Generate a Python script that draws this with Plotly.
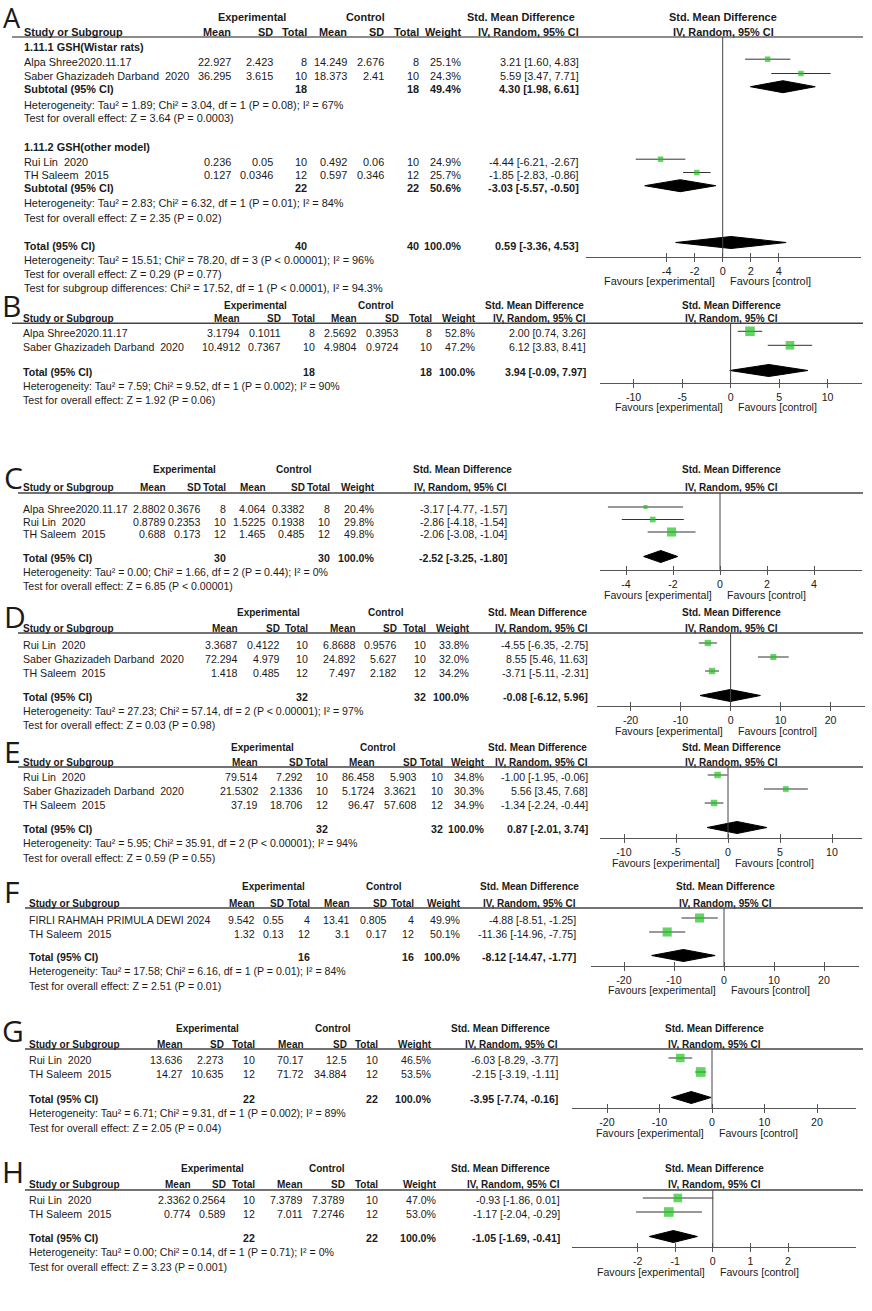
import plotly.graph_objects as go

W, H = 872, 1311

# ======================= DATA =======================
# ---- Panel A (two subgroups) ----
A_sub_names = ["1.11.1 GSH(Wistar rats)", "1.11.2 GSH(other model)"]
A_study = ["Alpa Shree2020.11.17", "Saber Ghazizadeh Darband  2020", "Rui Lin  2020", "TH Saleem  2015"]
A_e_mean = ["22.927", "36.295", "0.236", "0.127"]
A_e_sd = ["2.423", "3.615", "0.05", "0.0346"]
A_e_n = [8, 10, 10, 12]
A_c_mean = ["14.249", "18.373", "0.492", "0.597"]
A_c_sd = ["2.676", "2.41", "0.06", "0.346"]
A_c_n = [8, 10, 10, 12]
A_weight = [25.1, 24.3, 24.9, 25.7]
A_smd = [3.21, 5.59, -4.44, -1.85]
A_lo = [1.60, 3.47, -6.21, -2.83]
A_hi = [4.83, 7.71, -2.67, -0.86]
A_sub_n = [18, 22]
A_sub_w = [49.4, 50.6]
A_sub_smd = [4.30, -3.03]
A_sub_lo = [1.98, -5.57]
A_sub_hi = [6.61, -0.50]
A_sub_het = ["Heterogeneity: Tau² = 1.89; Chi² = 3.04, df = 1 (P = 0.08); I² = 67%",
             "Heterogeneity: Tau² = 2.83; Chi² = 6.32, df = 1 (P = 0.01); I² = 84%"]
A_sub_test = ["Test for overall effect: Z = 3.64 (P = 0.0003)",
              "Test for overall effect: Z = 2.35 (P = 0.02)"]
A_tot_n = 40
A_tot = [0.59, -3.36, 4.53]
A_het = "Heterogeneity: Tau² = 15.51; Chi² = 78.20, df = 3 (P &lt; 0.00001); I² = 96%"
A_test = "Test for overall effect: Z = 0.29 (P = 0.77)"
A_subdiff = "Test for subgroup differences: Chi² = 17.52, df = 1 (P &lt; 0.0001), I² = 94.3%"
A_ticks = [-4, -2, 0, 2, 4]

# ---- Panel B ----
B_study = ["Alpa Shree2020.11.17", "Saber Ghazizadeh Darband  2020"]
B_e_mean = ["3.1794", "10.4912"]
B_e_sd = ["0.1011", "0.7367"]
B_e_n = [8, 10]
B_c_mean = ["2.5692", "4.9804"]
B_c_sd = ["0.3953", "0.9724"]
B_c_n = [8, 10]
B_weight = [52.8, 47.2]
B_smd = [2.00, 6.12]
B_lo = [0.74, 3.83]
B_hi = [3.26, 8.41]
B_tot_n = 18
B_tot = [3.94, -0.09, 7.97]
B_het = "Heterogeneity: Tau² = 7.59; Chi² = 9.52, df = 1 (P = 0.002); I² = 90%"
B_test = "Test for overall effect: Z = 1.92 (P = 0.06)"
B_ticks = [-10, -5, 0, 5, 10]

# ---- Panel C ----
C_study = ["Alpa Shree2020.11.17", "Rui Lin  2020", "TH Saleem  2015"]
C_e_mean = ["2.8802", "0.8789", "0.688"]
C_e_sd = ["0.3676", "0.2353", "0.173"]
C_e_n = [8, 10, 12]
C_c_mean = ["4.064", "1.5225", "1.465"]
C_c_sd = ["0.3382", "0.1938", "0.485"]
C_c_n = [8, 10, 12]
C_weight = [20.4, 29.8, 49.8]
C_smd = [-3.17, -2.86, -2.06]
C_lo = [-4.77, -4.18, -3.08]
C_hi = [-1.57, -1.54, -1.04]
C_tot_n = 30
C_tot = [-2.52, -3.25, -1.80]
C_het = "Heterogeneity: Tau² = 0.00; Chi² = 1.66, df = 2 (P = 0.44); I² = 0%"
C_test = "Test for overall effect: Z = 6.85 (P &lt; 0.00001)"
C_ticks = [-4, -2, 0, 2, 4]

# ---- Panel D ----
D_study = ["Rui Lin  2020", "Saber Ghazizadeh Darband  2020", "TH Saleem  2015"]
D_e_mean = ["3.3687", "72.294", "1.418"]
D_e_sd = ["0.4122", "4.979", "0.485"]
D_e_n = [10, 10, 12]
D_c_mean = ["6.8688", "24.892", "7.497"]
D_c_sd = ["0.9576", "5.627", "2.182"]
D_c_n = [10, 10, 12]
D_weight = [33.8, 32.0, 34.2]
D_smd = [-4.55, 8.55, -3.71]
D_lo = [-6.35, 5.46, -5.11]
D_hi = [-2.75, 11.63, -2.31]
D_tot_n = 32
D_tot = [-0.08, -6.12, 5.96]
D_het = "Heterogeneity: Tau² = 27.23; Chi² = 57.14, df = 2 (P &lt; 0.00001); I² = 97%"
D_test = "Test for overall effect: Z = 0.03 (P = 0.98)"
D_ticks = [-20, -10, 0, 10, 20]

# ---- Panel E ----
E_study = ["Rui Lin  2020", "Saber Ghazizadeh Darband  2020", "TH Saleem  2015"]
E_e_mean = ["79.514", "21.5302", "37.19"]
E_e_sd = ["7.292", "2.1336", "18.706"]
E_e_n = [10, 10, 12]
E_c_mean = ["86.458", "5.1724", "96.47"]
E_c_sd = ["5.903", "3.3621", "57.608"]
E_c_n = [10, 10, 12]
E_weight = [34.8, 30.3, 34.9]
E_smd = [-1.00, 5.56, -1.34]
E_lo = [-1.95, 3.45, -2.24]
E_hi = [-0.06, 7.68, -0.44]
E_tot_n = 32
E_tot = [0.87, -2.01, 3.74]
E_het = "Heterogeneity: Tau² = 5.95; Chi² = 35.91, df = 2 (P &lt; 0.00001); I² = 94%"
E_test = "Test for overall effect: Z = 0.59 (P = 0.55)"
E_ticks = [-10, -5, 0, 5, 10]

# ---- Panel F ----
F_study = ["FIRLI RAHMAH PRIMULA DEWI 2024", "TH Saleem  2015"]
F_e_mean = ["9.542", "1.32"]
F_e_sd = ["0.55", "0.13"]
F_e_n = [4, 12]
F_c_mean = ["13.41", "3.1"]
F_c_sd = ["0.805", "0.17"]
F_c_n = [4, 12]
F_weight = [49.9, 50.1]
F_smd = [-4.88, -11.36]
F_lo = [-8.51, -14.96]
F_hi = [-1.25, -7.75]
F_tot_n = 16
F_tot = [-8.12, -14.47, -1.77]
F_het = "Heterogeneity: Tau² = 17.58; Chi² = 6.16, df = 1 (P = 0.01); I² = 84%"
F_test = "Test for overall effect: Z = 2.51 (P = 0.01)"
F_ticks = [-20, -10, 0, 10, 20]

# ---- Panel G ----
G_study = ["Rui Lin  2020", "TH Saleem  2015"]
G_e_mean = ["13.636", "14.27"]
G_e_sd = ["2.273", "10.635"]
G_e_n = [10, 12]
G_c_mean = ["70.17", "71.72"]
G_c_sd = ["12.5", "34.884"]
G_c_n = [10, 12]
G_weight = [46.5, 53.5]
G_smd = [-6.03, -2.15]
G_lo = [-8.29, -3.19]
G_hi = [-3.77, -1.11]
G_tot_n = 22
G_tot = [-3.95, -7.74, -0.16]
G_het = "Heterogeneity: Tau² = 6.71; Chi² = 9.31, df = 1 (P = 0.002); I² = 89%"
G_test = "Test for overall effect: Z = 2.05 (P = 0.04)"
G_ticks = [-20, -10, 0, 10, 20]

# ---- Panel H ----
H_study = ["Rui Lin  2020", "TH Saleem  2015"]
H_e_mean = ["2.3362", "0.774"]
H_e_sd = ["0.2564", "0.589"]
H_e_n = [10, 12]
H_c_mean = ["7.3789", "7.011"]
H_c_sd = ["7.3789", "7.2746"]
H_c_n = [10, 12]
H_weight = [47.0, 53.0]
H_smd = [-0.93, -1.17]
H_lo = [-1.86, -2.04]
H_hi = [0.01, -0.29]
H_tot_n = 22
H_tot = [-1.05, -1.69, -0.41]
H_het = "Heterogeneity: Tau² = 0.00; Chi² = 0.14, df = 1 (P = 0.71); I² = 0%"
H_test = "Test for overall effect: Z = 3.23 (P = 0.001)"
H_ticks = [-2, -1, 0, 1, 2]

HEAD2 = ["Mean", "SD", "Total", "Mean", "SD", "Total", "Weight", "IV, Random, 95% CI"]

# ======================= LAYOUT (pixel positions) =======================
LA = dict(letter=18, lx=1, h1=17.3, h2=32.3, line=37, left=21.7, lline=12,
          cols=[233, 275, 309, 349, 386, 420.5, 463.3, 580.7], exp_c=251.7, ctl_c=365, smd_c=520.7,
          sub=[46.7, 146.7], rows=[61.7, 76, 161.7, 175], subtot=[89.3, 188.3],
          subhet=[105, 203.3], subtest=[118.3, 217.7],
          total=245.7, het=260, test=274.3, subdiff=288.3, axis=256.7,
          zero=722.7, ppu=14.0, xa=585.7, xb=860.7)

LAYOUTS = {
    "B": dict(letter=305, lx=0, h1=305, h2=318.3, line=323.3, rows=[333.3, 347.3], total=372, het=386, test=400,
              axis=383, left=21, lline=12, cols=[242, 283.3, 316.7, 359, 401, 434, 477.7, 588.3],
              exp_c=255, ctl_c=376, smd_c=534, zero=730.6, ppu=9.7, xa=600, xb=862),
    "C": dict(letter=477, lx=2, h1=470, h2=487, line=493, rows=[509, 521.5, 534], total=558, het=572, test=586,
              axis=570, left=21, lline=18, cols=[168, 203, 228, 268, 307, 332, 377, 509],
              exp_c=184, ctl_c=294, smd_c=462, zero=720, ppu=23.5, xa=600, xb=862),
    "D": dict(letter=617, lx=2, h1=612, h2=628, line=633, rows=[645, 659, 673], total=697, het=711, test=725,
              axis=706, left=21, lline=18, cols=[240, 282, 310, 358, 398.5, 427.6, 472, 589.7],
              exp_c=268, ctl_c=386, smd_c=537, zero=730.6, ppu=5.0, xa=597, xb=865),
    "E": dict(letter=751, lx=2, h1=747, h2=762, line=767, rows=[777, 791, 805], total=829, het=843, test=858,
              axis=838, left=21, lline=18, cols=[260, 304.6, 330, 377, 419, 445, 487, 589.7],
              exp_c=262, ctl_c=378, smd_c=537, zero=728, ppu=10.4, xa=600, xb=862),
    "F": dict(letter=891, lx=2, h1=886, h2=903, line=908, rows=[920, 934], total=957, het=971, test=986,
              axis=966, left=27, lline=25, cols=[257, 286, 312, 352, 389, 416, 463, 578],
              exp_c=273, ctl_c=384, smd_c=529, zero=724, ppu=5.0, xa=591, xb=859),
    "G": dict(letter=1030, lx=0, h1=1028, h2=1044, line=1049, rows=[1060, 1074], total=1099, het=1113, test=1128,
              axis=1108, left=27, lline=25, cols=[184.5, 226, 257, 306, 349, 380, 433.5, 559.5],
              exp_c=207, ctl_c=332.6, smd_c=500, zero=712, ppu=5.25, xa=572, xb=856),
    "H": dict(letter=1171, lx=0, h1=1168, h2=1184, line=1190, rows=[1200, 1214], total=1238, het=1252, test=1267,
              axis=1247, left=27, lline=25, cols=[193, 228, 257, 304.6, 346.6, 380, 439, 562],
              exp_c=212, ctl_c=327, smd_c=500, zero=712.8, ppu=37.6, xa=572, xb=856),
}

PANEL_DATA = {
    k: dict(study=g[k + "_study"], e_mean=g[k + "_e_mean"], e_sd=g[k + "_e_sd"], e_n=g[k + "_e_n"],
            c_mean=g[k + "_c_mean"], c_sd=g[k + "_c_sd"], c_n=g[k + "_c_n"], weight=g[k + "_weight"],
            smd=g[k + "_smd"], lo=g[k + "_lo"], hi=g[k + "_hi"], tot_n=g[k + "_tot_n"], tot=g[k + "_tot"],
            het=g[k + "_het"], test=g[k + "_test"], ticks=g[k + "_ticks"])
    for g in [globals()] for k in "BCDEFGH"
}

# ======================= STYLE =======================
FA = "Liberation Sans, Arial, sans-serif"
FL = "Open Sans, Liberation Sans, sans-serif"
INK = "#1a1a1a"
GREEN = "#22c322"
LINEC = "#333333"

fig = go.Figure()
ann = []
shapes = []


def nb(s):
    return s.replace("  ", "\u00a0\u00a0")


def ci(e, lo, hi):
    return f"{e:.2f} [{lo:.2f}, {hi:.2f}]"


def T(x, y, s, xa="left", bold=False, size=11, fam=FA):
    if bold:
        s = "<b>" + s + "</b>"
    ann.append(dict(x=x / W, y=1 - y / H, xref="paper", yref="paper", text=s, showarrow=False,
                    xanchor=xa, yanchor="middle", font=dict(size=size, family=fam, color=INK)))


def hline(x0, x1, y, color, width):
    shapes.append(dict(type="line", xref="paper", yref="paper", x0=x0 / W, x1=x1 / W,
                       y0=1 - y / H, y1=1 - y / H, line=dict(color=color, width=width)))


def setup_axes(i, L, ticks, fs, hs):
    sx = "" if i == 1 else str(i)
    rng = [(L["xa"] - L["zero"]) / L["ppu"], (L["xb"] - L["zero"]) / L["ppu"]]
    fig.update_layout(**{
        "xaxis" + sx: dict(domain=[L["xa"] / W, L["xb"] / W], range=rng, anchor="y" + sx,
                           showline=True, linecolor="#555", linewidth=1, showgrid=False, zeroline=False,
                           tickmode="array", tickvals=ticks, ticktext=[str(t) for t in ticks],
                           ticks="outside", ticklen=4, tickwidth=1, tickcolor="#555",
                           minor=dict(tickmode="array", tickvals=ticks, ticks="inside", ticklen=4,
                                      tickwidth=1, tickcolor="#555"),
                           tickfont=dict(family=FA, size=fs, color=INK), fixedrange=True),
        "yaxis" + sx: dict(domain=[1 - L["axis"] / H, 1 - L["line"] / H], range=[L["axis"], L["line"]],
                           anchor="x" + sx, visible=False, fixedrange=True),
    })
    shapes.append(dict(type="line", xref="x" + sx, yref="y" + sx, x0=0, x1=0, y0=L["line"], y1=L["axis"],
                       line=dict(color="#444", width=1)))
    pc = (L["xa"] + L["xb"]) / 2
    T(pc, L["h1"], "Std. Mean Difference", "center", True, hs)
    T(pc, L["h2"], "IV, Random, 95% CI", "center", True, hs)
    fav_y = L["axis"] + 24.5
    T(L["zero"] - 6, fav_y, "Favours [experimental]", "right", False, fs)
    T(L["zero"] + 5, fav_y, "Favours [control]", "left", False, fs)
    return "x" + sx, "y" + sx


def studies_trace(xr, yr, smd, lo, hi, ys, sizes):
    lx, ly = [], []
    for l, h, y in zip(lo, hi, ys):
        lx += [l, h, None]
        ly += [y, y, None]
    fig.add_trace(go.Scatter(x=lx, y=ly, mode="lines", line=dict(color=LINEC, width=1),
                             xaxis=xr, yaxis=yr, hoverinfo="skip", cliponaxis=False))
    fig.add_trace(go.Scatter(x=smd, y=ys, mode="markers", xaxis=xr, yaxis=yr, cliponaxis=False,
                             marker=dict(symbol="square", color=GREEN, size=sizes, line=dict(width=0))))


def diamond(xr, yr, est, lo, hi, y, hh=6):
    fig.add_trace(go.Scatter(x=[lo, est, hi, est, lo], y=[y, y - hh, y, y + hh, y], mode="lines",
                             fill="toself", fillcolor="black", line=dict(color="black", width=1),
                             xaxis=xr, yaxis=yr, hoverinfo="skip", cliponaxis=False))


# ======================= PANEL A =======================
fs = hs = 10.9
L = LA
T(L["lx"], L["letter"], "A", "left", False, 27, FL)
T(L["exp_c"], L["h1"], "Experimental", "center", True, hs)
T(L["ctl_c"], L["h1"], "Control", "center", True, hs)
T(L["smd_c"], L["h1"], "Std. Mean Difference", "center", True, hs)
T(L["left"], L["h2"], "Study or Subgroup", "left", True, hs)
for x, s in zip(L["cols"], HEAD2):
    T(x, L["h2"], s, "right", True, hs)
hline(L["lline"], 863, L["line"], "#666", 1.5)
xr, yr = setup_axes(1, L, A_ticks, fs, hs)
for g in range(2):
    T(L["left"], L["sub"][g], A_sub_names[g], "left", True, fs)
    idx = [j for j in range(len(A_study)) if (j >= 2) == (g == 1)]
    for j in idx:
        y = L["rows"][j]
        T(L["left"], y, nb(A_study[j]), "left", False, fs)
        vals = [A_e_mean[j], A_e_sd[j], str(A_e_n[j]), A_c_mean[j], A_c_sd[j], str(A_c_n[j]),
                f"{A_weight[j]:.1f}%", ci(A_smd[j], A_lo[j], A_hi[j])]
        for x, s in zip(L["cols"], vals):
            T(x, y, s, "right", False, fs)
    y = L["subtot"][g]
    T(L["left"], y, "Subtotal (95% CI)", "left", True, fs)
    T(L["cols"][2], y, str(A_sub_n[g]), "right", True, fs)
    T(L["cols"][5], y, str(A_sub_n[g]), "right", True, fs)
    T(L["cols"][6], y, f"{A_sub_w[g]:.1f}%", "right", True, fs)
    T(L["cols"][7], y, ci(A_sub_smd[g], A_sub_lo[g], A_sub_hi[g]), "right", True, fs)
    T(L["left"], L["subhet"][g], A_sub_het[g], "left", False, fs)
    T(L["left"], L["subtest"][g], A_sub_test[g], "left", False, fs)
    diamond(xr, yr, A_sub_smd[g], A_sub_lo[g], A_sub_hi[g], y - 2.6)
studies_trace(xr, yr, A_smd, A_lo, A_hi, [y - 2.5 for y in L["rows"]], [5.5] * len(A_smd))
y = L["total"]
T(L["left"], y, "Total (95% CI)", "left", True, fs)
T(L["cols"][2], y, str(A_tot_n), "right", True, fs)
T(L["cols"][5], y, str(A_tot_n), "right", True, fs)
T(L["cols"][6], y, "100.0%", "right", True, fs)
T(L["cols"][7], y, ci(*A_tot), "right", True, fs)
T(L["left"], L["het"], A_het, "left", False, fs)
T(L["left"], L["test"], A_test, "left", False, fs)
T(L["left"], L["subdiff"], A_subdiff, "left", False, fs)
diamond(xr, yr, A_tot[0], A_tot[1], A_tot[2], y - 3.2)

# ======================= PANELS B-H =======================
fs, hs = 10.6, 10
for i, k in enumerate("BCDEFGH", start=2):
    L, D = LAYOUTS[k], PANEL_DATA[k]
    T(L["lx"], L["letter"], k, "left", False, 30, FL)
    T(L["exp_c"], L["h1"], "Experimental", "center", True, hs)
    T(L["ctl_c"], L["h1"], "Control", "center", True, hs)
    T(L["smd_c"], L["h1"], "Std. Mean Difference", "center", True, hs)
    T(L["left"], L["h2"], "Study or Subgroup", "left", True, hs)
    for x, s in zip(L["cols"], HEAD2):
        T(x, L["h2"], s, "right", True, hs)
    hline(L["lline"], 863, L["line"], "#444", 1.5)
    xr, yr = setup_axes(i, L, D["ticks"], fs, hs)
    for j, y in enumerate(L["rows"]):
        T(L["left"], y, nb(D["study"][j]), "left", False, fs)
        vals = [D["e_mean"][j], D["e_sd"][j], str(D["e_n"][j]), D["c_mean"][j], D["c_sd"][j],
                str(D["c_n"][j]), f"{D['weight'][j]:.1f}%", ci(D["smd"][j], D["lo"][j], D["hi"][j])]
        for x, s in zip(L["cols"], vals):
            T(x, y, s, "right", False, fs)
    studies_trace(xr, yr, D["smd"], D["lo"], D["hi"], [y - 2 for y in L["rows"]],
                  [0.17 * w + 0.6 for w in D["weight"]])
    y = L["total"]
    T(L["left"], y, "Total (95% CI)", "left", True, fs)
    T(L["cols"][2], y, str(D["tot_n"]), "right", True, fs)
    T(L["cols"][5], y, str(D["tot_n"]), "right", True, fs)
    T(L["cols"][6], y, "100.0%", "right", True, fs)
    T(L["cols"][7], y, ci(*D["tot"]), "right", True, fs)
    T(L["left"], L["het"], D["het"], "left", False, fs)
    T(L["left"], L["test"], D["test"], "left", False, fs)
    diamond(xr, yr, D["tot"][0], D["tot"][1], D["tot"][2], y - 1.5)

fig.update_layout(width=W, height=H, margin=dict(l=0, r=0, t=0, b=0), showlegend=False,
                  paper_bgcolor="white", plot_bgcolor="white", annotations=ann, shapes=shapes)
fig.write_html("out.html", config={"displayModeBar": False},
               post_script="document.body.style.margin='0px';")
